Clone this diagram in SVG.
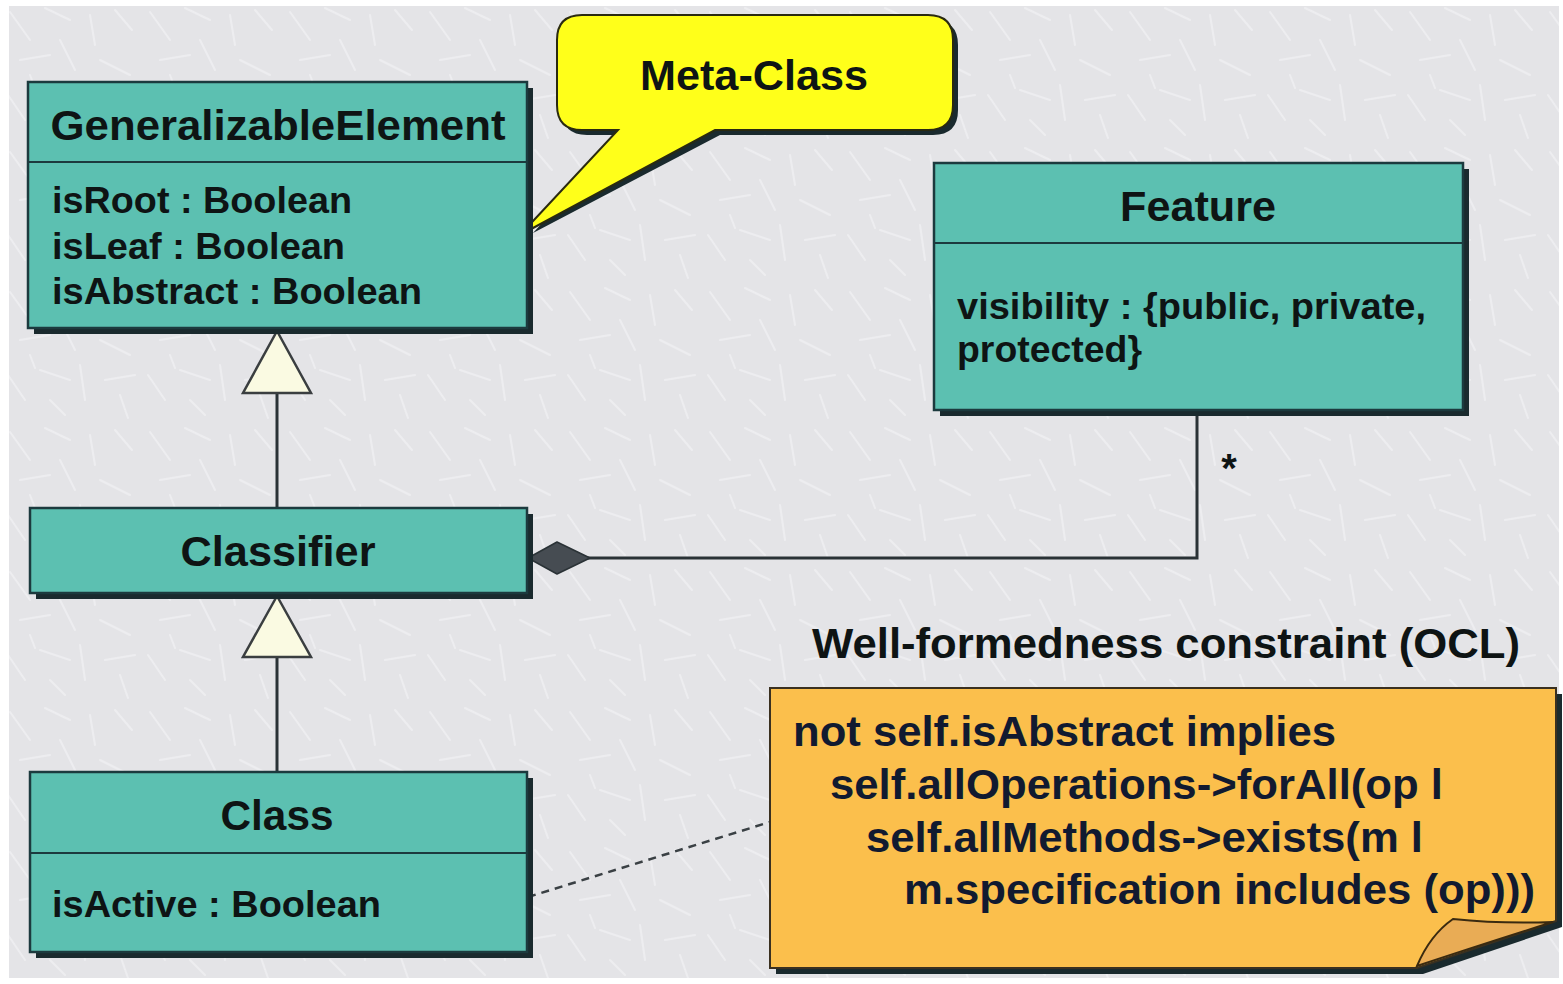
<svg xmlns="http://www.w3.org/2000/svg" width="1563" height="984" viewBox="0 0 1563 984">
<defs>
<pattern id="tex" width="140" height="140" patternUnits="userSpaceOnUse">
<rect width="140" height="140" fill="#e4e4e7"/>
<g stroke="#f4f4f6" stroke-width="2" stroke-linecap="round" opacity="0.6">
<line x1="10" y1="12" x2="30" y2="40"/><line x1="45" y1="8" x2="70" y2="20"/><line x1="90" y1="15" x2="95" y2="45"/>
<line x1="115" y1="10" x2="132" y2="30"/><line x1="20" y1="60" x2="50" y2="55"/><line x1="60" y1="40" x2="75" y2="70"/>
<line x1="100" y1="60" x2="130" y2="75"/><line x1="8" y1="95" x2="25" y2="120"/><line x1="40" y1="90" x2="70" y2="100"/>
<line x1="80" y1="85" x2="85" y2="120"/><line x1="105" y1="100" x2="135" y2="95"/><line x1="50" y1="120" x2="65" y2="135"/>
<line x1="120" y1="115" x2="128" y2="138"/><line x1="30" y1="75" x2="35" y2="88"/>
</g>
</pattern>
<style>
.box{fill:#5cc0b1;stroke:#1c3a3e;stroke-width:2.5}
.shadow{fill:#1a2a2e}
.div{stroke:#1c3a3e;stroke-width:2}
.t{font-family:"Liberation Sans",Arial,sans-serif;font-weight:bold;fill:#0e1414}
.title{font-size:43px;text-anchor:middle}
.attr{font-size:37px}
.note{font-size:42px;fill:#111a30}
.conn{stroke:#2a3236;stroke-width:3;fill:none}
.gen{fill:#fafae2;stroke:#3a3e40;stroke-width:2.5}
</style>
</defs>
<rect width="1563" height="984" fill="#ffffff"/>
<rect x="9" y="6" width="1550" height="972" fill="url(#tex)"/>

<g id="connectors">
<line class="conn" x1="277" y1="393" x2="277" y2="508"/>
<polygon class="gen" points="277,331 311,393 243,393"/>
<line class="conn" x1="277" y1="657" x2="277" y2="772"/>
<polygon class="gen" points="277,596 311,657 243,657"/>
<polyline class="conn" stroke="#102028" stroke-width="4" points="586,558 1197,558 1197,412"/>
<polygon points="528,558 557,542 590,558 557,574" fill="#464c52" stroke="#2a3236" stroke-width="1.5" stroke-linejoin="round"/>
<text class="t" x="1229" y="482" font-size="40" text-anchor="middle">*</text>
<line x1="528" y1="897" x2="770" y2="822" stroke="#3a4044" stroke-width="2.5" stroke-dasharray="8,6"/>
</g>

<g id="metaclass">
<path class="shadow" transform="translate(5,5)" d="M582,15 H928 Q953,15 953,40 V105 Q953,130 928,130 H715 L528,228 L618,130 H582 Q557,130 557,105 V40 Q557,15 582,15 Z"/>
<path d="M582,15 H928 Q953,15 953,40 V105 Q953,130 928,130 H715 L520,235 L618,130 H582 Q557,130 557,105 V40 Q557,15 582,15 Z" fill="#ffff1a" stroke="#2a2a10" stroke-width="2"/>
<text class="t title" x="754" y="90" textLength="228" lengthAdjust="spacingAndGlyphs">Meta-Class</text>
</g>

<g id="generalizableelement">
<rect class="shadow" x="34" y="88" width="499" height="246"/>
<rect class="box" x="28" y="82" width="499" height="246"/>
<line class="div" x1="28" y1="162" x2="527" y2="162"/>
<text class="t title" x="278" y="140" textLength="455" lengthAdjust="spacingAndGlyphs">GeneralizableElement</text>
<text class="t attr" x="52" y="213" textLength="300" lengthAdjust="spacingAndGlyphs">isRoot : Boolean</text>
<text class="t attr" x="52" y="259" textLength="293" lengthAdjust="spacingAndGlyphs">isLeaf : Boolean</text>
<text class="t attr" x="52" y="304" textLength="370" lengthAdjust="spacingAndGlyphs">isAbstract : Boolean</text>
</g>

<g id="feature">
<rect class="shadow" x="940" y="169" width="529" height="247"/>
<rect class="box" x="934" y="163" width="529" height="247"/>
<line class="div" x1="934" y1="243" x2="1463" y2="243"/>
<text class="t title" x="1198" y="221" textLength="156" lengthAdjust="spacingAndGlyphs">Feature</text>
<text class="t attr" x="957" y="319" textLength="469" lengthAdjust="spacingAndGlyphs">visibility : {public, private,</text>
<text class="t attr" x="957" y="362" textLength="185" lengthAdjust="spacingAndGlyphs">protected}</text>
</g>

<g id="classifier">
<rect class="shadow" x="36" y="514" width="497" height="85"/>
<rect class="box" x="30" y="508" width="497" height="85"/>
<text class="t title" x="278" y="566" textLength="195" lengthAdjust="spacingAndGlyphs">Classifier</text>
</g>

<g id="class">
<rect class="shadow" x="36" y="778" width="497" height="180"/>
<rect class="box" x="30" y="772" width="497" height="180"/>
<line class="div" x1="30" y1="853" x2="527" y2="853"/>
<text class="t title" x="277" y="830" textLength="113" lengthAdjust="spacingAndGlyphs">Class</text>
<text class="t attr" x="52" y="917" textLength="329" lengthAdjust="spacingAndGlyphs">isActive : Boolean</text>
</g>

<g id="constraint-label">
<text class="t" x="812" y="658" font-size="42" textLength="708" lengthAdjust="spacingAndGlyphs">Well-formedness constraint (OCL)</text>
</g>

<g id="ocl-note">
<path class="shadow" transform="translate(6,6)" d="M770,688 H1556 V921 L1417,968 H770 Z"/>
<path d="M770,688 H1556 V921 L1417,968 H770 Z" fill="#fbbf4c" stroke="#3a3020" stroke-width="2"/>
<path d="M1417,966 Q1430,935 1453,919 Q1500,924 1553,922 Q1480,945 1417,966 Z" fill="#e9ac55" stroke="#3a2a10" stroke-width="2"/>
<text class="t note" x="793" y="746" textLength="543" lengthAdjust="spacingAndGlyphs">not self.isAbstract implies</text>
<text class="t note" x="830" y="799" textLength="613" lengthAdjust="spacingAndGlyphs">self.allOperations-&gt;forAll(op l</text>
<text class="t note" x="866" y="852" textLength="557" lengthAdjust="spacingAndGlyphs">self.allMethods-&gt;exists(m l</text>
<text class="t note" x="904" y="904" textLength="631" lengthAdjust="spacingAndGlyphs">m.specification includes (op)))</text>
</g>
</svg>
